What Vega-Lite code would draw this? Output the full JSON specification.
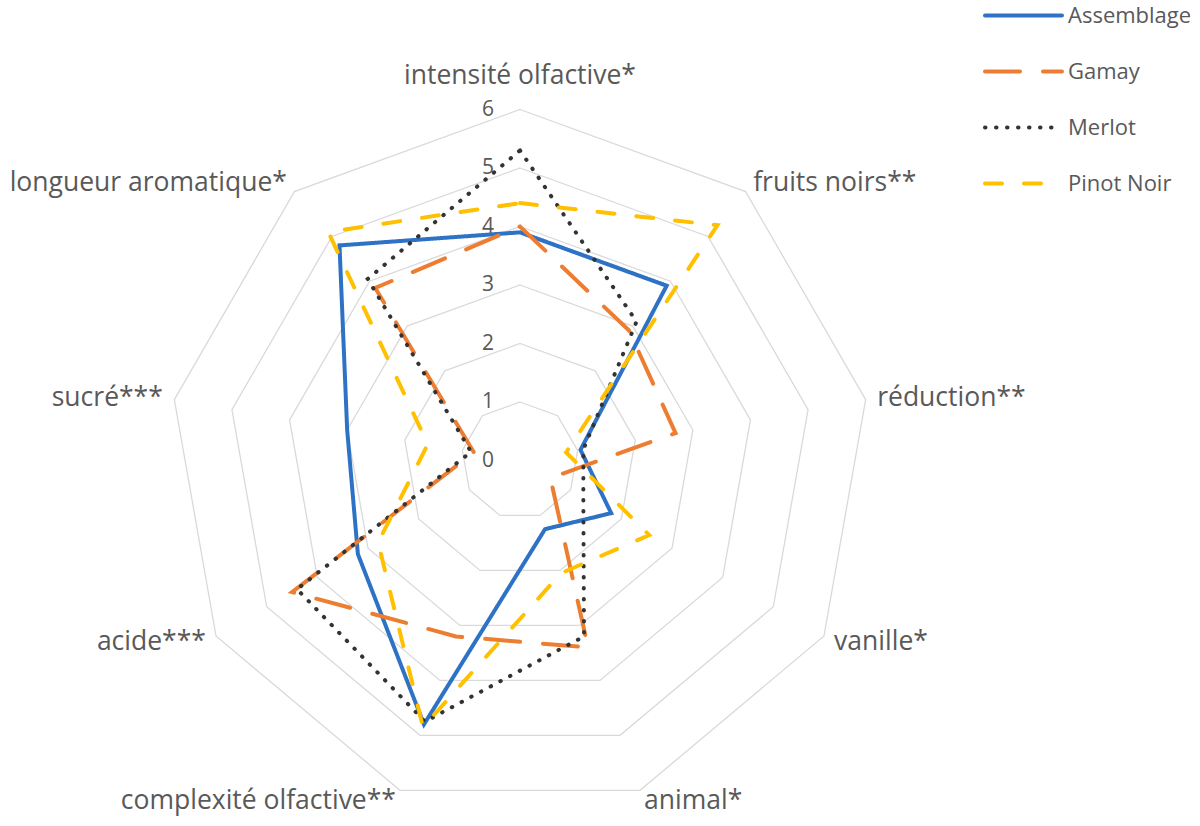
{
  "$schema": "https://vega.github.io/schema/vega-lite/v6.json",
  "width": 1200,
  "height": 826,
  "autosize": {"type": "none"},
  "padding": 0,
  "background": "white",
  "config": {"view": {"stroke": null}, "font": "Open Sans"},
  "datasets": {
    "rings": [
      {"level": 1, "idx": [0, 1, 2, 3, 4, 5, 6, 7, 8]},
      {"level": 2, "idx": [0, 1, 2, 3, 4, 5, 6, 7, 8]},
      {"level": 3, "idx": [0, 1, 2, 3, 4, 5, 6, 7, 8]},
      {"level": 4, "idx": [0, 1, 2, 3, 4, 5, 6, 7, 8]},
      {"level": 5, "idx": [0, 1, 2, 3, 4, 5, 6, 7, 8]},
      {"level": 6, "idx": [0, 1, 2, 3, 4, 5, 6, 7, 8]}
    ],
    "axes": [
      {"axis": "intensité olfactive*", "idx": 0},
      {"axis": "fruits noirs**", "idx": 1},
      {"axis": "réduction**", "idx": 2},
      {"axis": "vanille*", "idx": 3},
      {"axis": "animal*", "idx": 4},
      {"axis": "complexité olfactive**", "idx": 5},
      {"axis": "acide***", "idx": 6},
      {"axis": "sucré***", "idx": 7},
      {"axis": "longueur aromatique*", "idx": 8}
    ],
    "ticks": [{"v": 0}, {"v": 1}, {"v": 2}, {"v": 3}, {"v": 4}, {"v": 5}, {"v": 6}],
    "series": [
      {"series": "Assemblage", "axis": "intensité olfactive*", "idx": 0, "value": 3.9},
      {"series": "Assemblage", "axis": "fruits noirs**", "idx": 1, "value": 3.9},
      {"series": "Assemblage", "axis": "réduction**", "idx": 2, "value": 1.05},
      {"series": "Assemblage", "axis": "vanille*", "idx": 3, "value": 1.8},
      {"series": "Assemblage", "axis": "animal*", "idx": 4, "value": 1.25},
      {"series": "Assemblage", "axis": "complexité olfactive**", "idx": 5, "value": 4.8},
      {"series": "Assemblage", "axis": "acide***", "idx": 6, "value": 3.2},
      {"series": "Assemblage", "axis": "sucré***", "idx": 7, "value": 3.0},
      {"series": "Assemblage", "axis": "longueur aromatique*", "idx": 8, "value": 4.8},
      {"series": "Gamay", "axis": "intensité olfactive*", "idx": 0, "value": 4.0},
      {"series": "Gamay", "axis": "fruits noirs**", "idx": 1, "value": 2.9},
      {"series": "Gamay", "axis": "réduction**", "idx": 2, "value": 2.7},
      {"series": "Gamay", "axis": "vanille*", "idx": 3, "value": 0.6},
      {"series": "Gamay", "axis": "animal*", "idx": 4, "value": 3.4},
      {"series": "Gamay", "axis": "complexité olfactive**", "idx": 5, "value": 3.2},
      {"series": "Gamay", "axis": "acide***", "idx": 6, "value": 4.5},
      {"series": "Gamay", "axis": "sucré***", "idx": 7, "value": 0.8},
      {"series": "Gamay", "axis": "longueur aromatique*", "idx": 8, "value": 3.85},
      {"series": "Merlot", "axis": "intensité olfactive*", "idx": 0, "value": 5.3},
      {"series": "Merlot", "axis": "fruits noirs**", "idx": 1, "value": 3.1},
      {"series": "Merlot", "axis": "réduction**", "idx": 2, "value": 1.1},
      {"series": "Merlot", "axis": "vanille*", "idx": 3, "value": 1.25},
      {"series": "Merlot", "axis": "animal*", "idx": 4, "value": 3.2},
      {"series": "Merlot", "axis": "complexité olfactive**", "idx": 5, "value": 4.75},
      {"series": "Merlot", "axis": "acide***", "idx": 6, "value": 4.4},
      {"series": "Merlot", "axis": "sucré***", "idx": 7, "value": 0.85},
      {"series": "Merlot", "axis": "longueur aromatique*", "idx": 8, "value": 4.05},
      {"series": "Pinot Noir", "axis": "intensité olfactive*", "idx": 0, "value": 4.4},
      {"series": "Pinot Noir", "axis": "fruits noirs**", "idx": 1, "value": 5.25},
      {"series": "Pinot Noir", "axis": "réduction**", "idx": 2, "value": 0.8},
      {"series": "Pinot Noir", "axis": "vanille*", "idx": 3, "value": 2.55},
      {"series": "Pinot Noir", "axis": "animal*", "idx": 4, "value": 2.05},
      {"series": "Pinot Noir", "axis": "complexité olfactive**", "idx": 5, "value": 4.85},
      {"series": "Pinot Noir", "axis": "acide***", "idx": 6, "value": 2.8},
      {"series": "Pinot Noir", "axis": "sucré***", "idx": 7, "value": 1.6},
      {"series": "Pinot Noir", "axis": "longueur aromatique*", "idx": 8, "value": 5.1}
    ]
  },
  "layer": [
    {
      "data": {"name": "rings"},
      "transform": [
        {"flatten": ["idx"]},
        {"calculate": "datum.idx * 2 * PI / 9", "as": "ang"},
        {"calculate": "datum.level * sin(datum.ang)", "as": "px"},
        {"calculate": "datum.level * cos(datum.ang)", "as": "py"}
      ],
      "mark": {"type": "line", "interpolate": "linear-closed", "stroke": "#D9D9D9", "strokeWidth": 1.3},
      "encoding": {
        "x": {"field": "px", "type": "quantitative", "scale": {"domain": [-8.889, 11.624], "nice": false, "zero": false}, "axis": null},
        "y": {"field": "py", "type": "quantitative", "scale": {"domain": [-6.248, 7.872], "nice": false, "zero": false}, "axis": null},
        "detail": {"field": "level", "type": "nominal"},
        "order": {"field": "idx", "type": "quantitative"}
      }
    },
    {
      "data": {"name": "series"},
      "transform": [
        {"calculate": "datum.idx * 2 * PI / 9", "as": "ang"},
        {"calculate": "datum.value * sin(datum.ang)", "as": "px"},
        {"calculate": "datum.value * cos(datum.ang)", "as": "py"}
      ],
      "mark": {"type": "line", "interpolate": "linear-closed", "strokeWidth": 4, "strokeCap": "round"},
      "encoding": {
        "x": {"field": "px", "type": "quantitative", "scale": {"domain": [-8.889, 11.624], "nice": false, "zero": false}, "axis": null},
        "y": {"field": "py", "type": "quantitative", "scale": {"domain": [-6.248, 7.872], "nice": false, "zero": false}, "axis": null},
        "order": {"field": "idx", "type": "quantitative"},
        "color": {
          "field": "series", "type": "nominal",
          "scale": {"domain": ["Assemblage", "Gamay", "Merlot", "Pinot Noir"], "range": ["#2E72C6", "#ED7D31", "#333333", "#FFC000"]},
          "legend": {
            "title": null, "orient": "none", "legendX": 983, "legendY": -25, "padding": 0,
            "symbolType": "stroke", "symbolSize": 5929, "symbolStrokeWidth": 4,
            "rowPadding": 4, "labelOffset": 4, "labelFontSize": 22, "labelColor": "#595959", "labelFont": "Open Sans",
            "encode": {"symbols": {"update": {"strokeCap": {"value": "round"}}}}
          }
        },
        "strokeDash": {
          "field": "series", "type": "nominal",
          "scale": {"domain": ["Assemblage", "Gamay", "Merlot", "Pinot Noir"], "range": [[1, 0], [35, 23], [0.5, 10.5], [17, 22]]},
          "legend": {
            "title": null, "orient": "none", "legendX": 983, "legendY": -25, "padding": 0,
            "symbolType": "stroke", "symbolSize": 5929, "symbolStrokeWidth": 4,
            "rowPadding": 4, "labelOffset": 4, "labelFontSize": 22, "labelColor": "#595959", "labelFont": "Open Sans",
            "encode": {"symbols": {"update": {"strokeCap": {"value": "round"}}}}
          }
        }
      }
    },
    {
      "data": {"name": "axes"},
      "transform": [
        {"filter": "datum.idx == 0"},
        {"calculate": "datum.idx * 2 * PI / 9", "as": "ang"},
        {"calculate": "6.2 * sin(datum.ang)", "as": "px"},
        {"calculate": "6.2 * cos(datum.ang)", "as": "py"}
      ],
      "mark": {"type": "text", "align": "center", "baseline": "bottom", "dy": -8, "fontSize": 26.5, "color": "#595959", "font": "Open Sans"},
      "encoding": {
        "x": {"field": "px", "type": "quantitative", "scale": {"domain": [-8.889, 11.624], "nice": false, "zero": false}, "axis": null},
        "y": {"field": "py", "type": "quantitative", "scale": {"domain": [-6.248, 7.872], "nice": false, "zero": false}, "axis": null},
        "text": {"field": "axis"}
      }
    },
    {
      "data": {"name": "axes"},
      "transform": [
        {"filter": "datum.idx >= 1 && datum.idx <= 4"},
        {"calculate": "datum.idx * 2 * PI / 9", "as": "ang"},
        {"calculate": "6.2 * sin(datum.ang)", "as": "px"},
        {"calculate": "6.2 * cos(datum.ang)", "as": "py"}
      ],
      "mark": {"type": "text", "align": "left", "baseline": "middle", "fontSize": 26.5, "color": "#595959", "font": "Open Sans"},
      "encoding": {
        "x": {"field": "px", "type": "quantitative", "scale": {"domain": [-8.889, 11.624], "nice": false, "zero": false}, "axis": null},
        "y": {"field": "py", "type": "quantitative", "scale": {"domain": [-6.248, 7.872], "nice": false, "zero": false}, "axis": null},
        "text": {"field": "axis"}
      }
    },
    {
      "data": {"name": "axes"},
      "transform": [
        {"filter": "datum.idx >= 5"},
        {"calculate": "datum.idx * 2 * PI / 9", "as": "ang"},
        {"calculate": "6.2 * sin(datum.ang)", "as": "px"},
        {"calculate": "6.2 * cos(datum.ang)", "as": "py"}
      ],
      "mark": {"type": "text", "align": "right", "baseline": "middle", "fontSize": 26.5, "color": "#595959", "font": "Open Sans"},
      "encoding": {
        "x": {"field": "px", "type": "quantitative", "scale": {"domain": [-8.889, 11.624], "nice": false, "zero": false}, "axis": null},
        "y": {"field": "py", "type": "quantitative", "scale": {"domain": [-6.248, 7.872], "nice": false, "zero": false}, "axis": null},
        "text": {"field": "axis"}
      }
    },
    {
      "data": {"name": "ticks"},
      "mark": {"type": "text", "align": "right", "baseline": "middle", "dx": -26, "fontSize": 21, "color": "#595959", "font": "Open Sans"},
      "encoding": {
        "x": {"datum": 0, "type": "quantitative", "scale": {"domain": [-8.889, 11.624], "nice": false, "zero": false}, "axis": null},
        "y": {"field": "v", "type": "quantitative", "scale": {"domain": [-6.248, 7.872], "nice": false, "zero": false}, "axis": null},
        "text": {"field": "v", "type": "quantitative"}
      }
    }
  ]
}
